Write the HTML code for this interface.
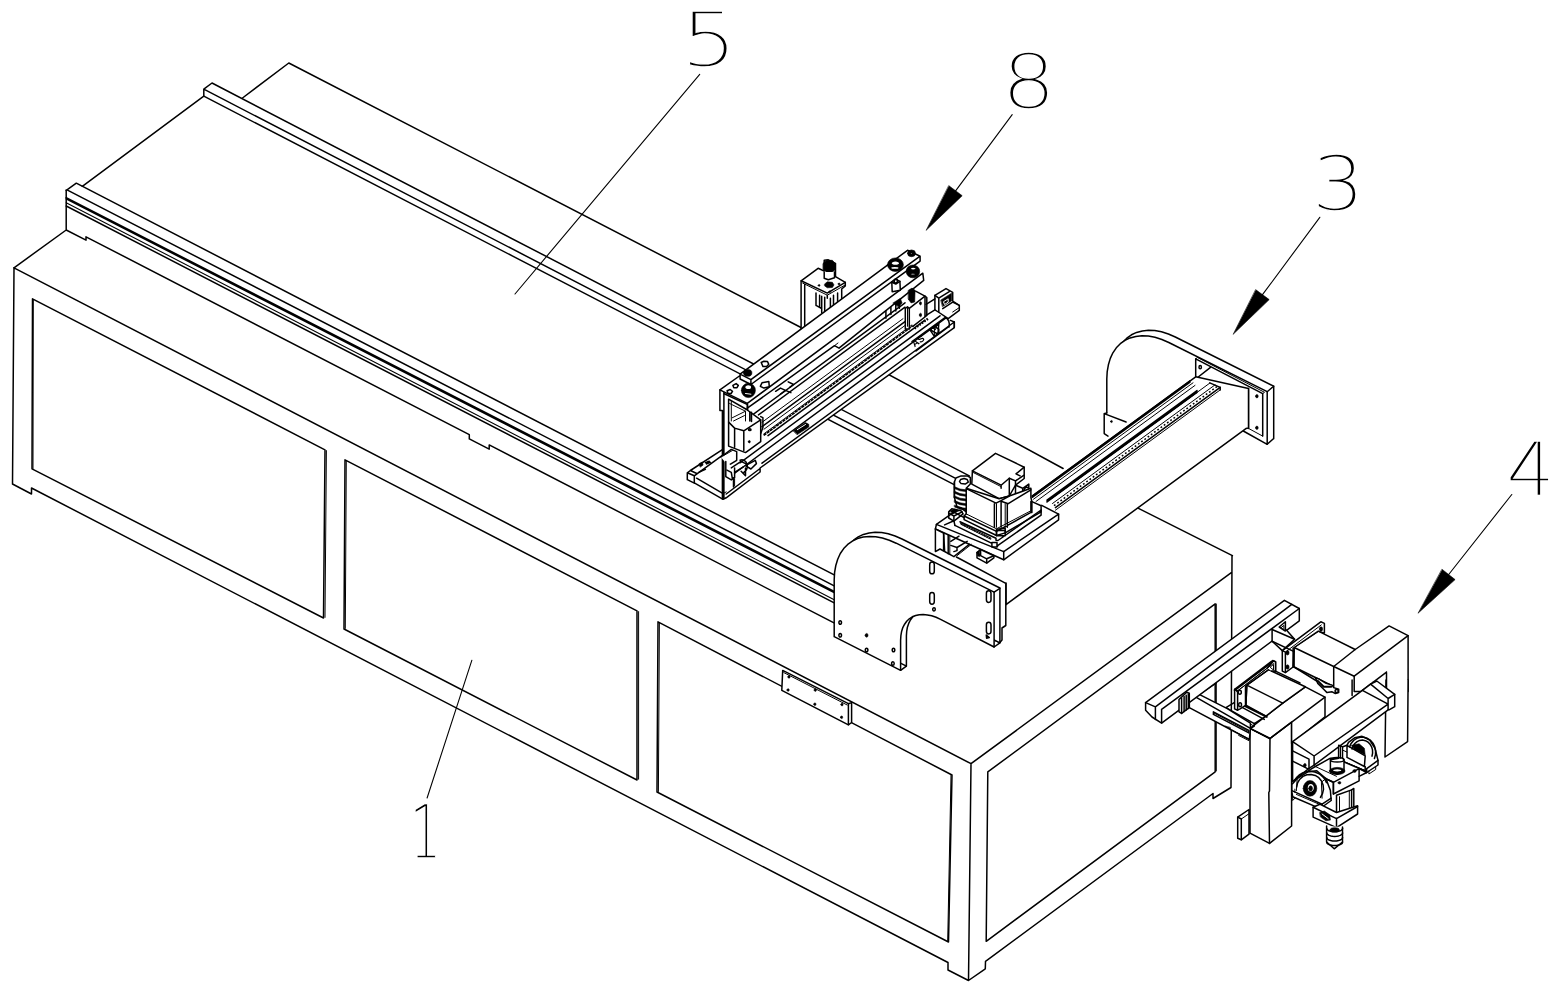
<!DOCTYPE html>
<html lang="en"><head><meta charset="utf-8"><title>Figure</title>
<style>
html,body{margin:0;padding:0;background:#fff;}
body{width:1558px;height:993px;overflow:hidden;}
svg{display:block;}
path{fill:none;stroke:#000;stroke-width:1.5;stroke-linecap:round;stroke-linejoin:round;}
path.t{stroke-width:1.0;}
path.m{stroke-width:1.1;}
path.k2{stroke-width:2.0;}
path.d3{stroke-width:2.4;stroke-dasharray:1.6 1.4;stroke-linecap:butt;}
text.s{stroke:none;filter:grayscale(1);font-family:"Liberation Sans",sans-serif;font-weight:700;}
path.k{stroke-width:1.7;stroke-dasharray:3.2 0.7;stroke-linecap:butt;}
path.wl{stroke:#fff;stroke-width:1.0;}
path.d{stroke-width:1.5;stroke-dasharray:1.8 2.2;stroke-linecap:butt;}
path.d2{stroke-width:1.6;stroke-dasharray:1.2 1.6;stroke-linecap:butt;}
path.f{fill:#000;stroke-width:0.6;}
path.w{fill:#fff;}
path.wn{fill:#fff;stroke:none;}
text{stroke:#fff;stroke-width:1.3px;font-family:"DejaVu Sans Light","DejaVu Sans","Liberation Sans",sans-serif;font-weight:200;fill:#000;}
</style></head><body>
<svg width="1558" height="993" viewBox="0 0 1558 993">
<path d="M14.0 267.8 L12.5 484.0 L31.5 494.0 L31.5 488.0 L948.0 962.5 L948.0 970.0 L968.5 980.5 L985.3 968.8 L985.5 961.4 L1213.0 793.5 L1213.0 798.5 L1231.0 787.5 L1232.0 555.7 M14.0 267.8 L971.0 763.7 L968.5 980.5 M971.0 763.7 L1232.0 572.2 M32.5 298.8 L325.0 449.8 L323.5 618.0 L32.0 468.8Z"/>
<path class="t" d="M33.3 299.5 L33.0 468.5"/>
<path d="M345.0 459.8 L637.0 610.8 L637.0 780.0 L344.0 629.0Z M658.0 621.8 L952.0 775.0 L948.5 942.0 L657.0 792.0Z"/>
<path class="t" d="M951.0 775.5 L947.7 941.0"/>
<path d="M987.8 771.9 L1215.2 603.9 L1215.2 771.8 L986.2 941.3Z"/>
<path class="t" d="M1216.3 604.0 L1216.3 771.0"/>
<path d="M14.0 267.8 L66.2 230.0 L66.2 190.0 M66.2 230.0 L86.0 240.2 L86.0 236.8 L469.3 434.7 L469.3 438.9 L489.2 449.1 L489.2 444.9 L834.0 622.9 M242.5 98.0 L288.8 63.0 L801.0 327.5 M1138.0 508.2 L1232.4 555.7 M203.8 96.2 L82.3 186.3"/>
<path class="w" d="M782.7 670.4 L848.4 703.7 L851.6 702.6 L851.6 722.5 L848.4 724.8 L781.8 690.3Z"/>
<path d="M848.4 703.7 L848.4 724.8"/>
<path class="t" d="M783.8 672.6 L847.2 705.0"/>
<path class="f" d="M787.9 676.9 a1.1 1.3 0 1 0 2.2 0 a1.1 1.3 0 1 0 -2.2 0Z M787.0 690.0 a1.1 1.3 0 1 0 2.2 0 a1.1 1.3 0 1 0 -2.2 0Z M814.2 690.1 a1.1 1.3 0 1 0 2.2 0 a1.1 1.3 0 1 0 -2.2 0Z M813.8 704.2 a1.1 1.3 0 1 0 2.2 0 a1.1 1.3 0 1 0 -2.2 0Z M840.9 704.6 a1.1 1.3 0 1 0 2.2 0 a1.1 1.3 0 1 0 -2.2 0Z M840.5 717.3 a1.1 1.3 0 1 0 2.2 0 a1.1 1.3 0 1 0 -2.2 0Z"/>
<path class="t" d="M638.6 611.6 L638.6 779.2 M659.4 622.8 L658.4 791.5 M326.4 450.6 L325.0 617.4 M346.3 460.8 L345.3 628.4"/>
<path d="M66.2 190.4 L67.0 189.9 L76.3 183.2 L834.2 574.9 M67.0 189.9 L834.2 585.9 M66.2 197.6 L834.2 591.4 M66.2 198.8 L834.2 592.6"/>
<path class="m" d="M66.2 202.7 L834.2 599.8"/>
<path d="M66.2 206.0 L834.2 602.9 M203.8 96.2 L203.8 89.2 L212.0 83.0 M212.0 83.0 L969.3 475.8 M203.8 89.2 L955.1 478.2 M203.8 96.2 L955.1 485.2 M801.0 327.5 L1000.0 434.3 L1063.1 468.5"/>
<path class="w" d="M801.1 329.1 L801.1 280.8 L818.1 268.3 L824.2 271.0 L824.2 260.3 L828.3 259.8 L835.5 263.3 L835.5 276.7 L845.3 282.3 L845.3 285.9 L841.7 289.0 L841.7 305.4 L830.4 315.7 L804.7 328.0Z"/>
<path d="M801.1 280.8 L827.3 293.1 L845.3 282.3"/>
<path class="t" d="M802.7 283.1 L827.3 295.2 L845.3 284.9"/>
<path d="M804.7 284.4 L804.7 328.0 M827.3 295.2 L827.3 298.3 M816.0 293.1 L816.0 305.4 M819.6 295.2 L819.6 307.5 M821.7 296.2 L821.7 312.6 M824.7 297.2 L824.7 313.7 M830.4 298.3 L830.4 315.7 M833.5 295.2 L833.5 311.6 M837.6 293.1 L837.6 307.5 M816.0 305.4 L821.7 308.5 M824.7 313.7 L830.4 315.7 L841.7 305.4"/>
<path class="f" d="M823.2 263.3 L826.3 260.3 L832.4 260.3 L835.5 263.9 L835.5 269.5 L832.4 272.1 L826.3 272.1 L823.2 269.0Z"/>
<path class="w" d="M824.2 272.1 L824.2 278.2 L828.3 279.8 L834.5 277.7 L834.5 272.1"/>
<path class="f" d="M824.7 283.9 L827.3 281.8 L832.4 282.3 L834.0 284.9 L832.4 287.5 L827.3 287.8 L824.7 285.9Z M818.2 285.4 a0.9 0.9 0 1 0 1.8 0 a0.9 0.9 0 1 0 -1.8 0Z M838.2 283.9 a0.9 0.9 0 1 0 1.8 0 a0.9 0.9 0 1 0 -1.8 0Z M829.0 291.6 a0.9 0.9 0 1 0 1.8 0 a0.9 0.9 0 1 0 -1.8 0Z"/>
<path class="wn" d="M687.3 472.8 L687.3 479.6 L694.3 482.8 L723.1 499.3 L760.1 472.0 L760.1 468.0 L954.3 327.6 L954.3 322.0 L959.3 318.0 L959.3 303.0 L952.0 298.0 L952.0 292.0 L946.0 288.5 L935.0 294.0 L935.0 302.0 L927.0 308.0 L927.0 290.0 L923.7 280.4 L922.8 273.2 L920.1 261.1 L920.1 256.2 L907.5 250.3 L740.1 374.2 L719.9 389.9 L719.9 410.6 L722.4 410.6 L722.4 452.0 L690.5 470.5Z"/>
<path d="M740.1 374.2 L907.5 250.3 L920.1 256.2 L750.9 379.6Z M750.9 379.6 L750.9 384.5 L920.1 261.1 L920.1 256.2 M740.1 374.2 L740.1 379.0 L750.9 384.5 M740.1 375.5 L719.9 389.9 L747.3 403.4 L922.8 273.2 L923.7 280.4 M747.3 403.4 L747.3 408.2 L834.5 345.7 L839.0 348.2 L923.7 280.4"/>
<path class="t" d="M834.5 345.7 L838.0 343.0"/>
<path d="M761.2 362.5 L763.9 361.2 L767.5 361.6 L768.8 364.3 L766.6 366.6 L763.0 366.6Z M760.3 386.3 L762.1 382.7 L768.8 381.4 L769.3 386.8 L763.9 388.1Z M732.9 385.4 L736.1 383.6 L738.3 385.4 L737.0 387.7 L733.8 387.7Z M727.1 390.8 L730.2 389.5 L732.5 391.3 L731.1 393.5 L728.0 393.5Z"/>
<path class="f" d="M743.5 372.9 a4.2 3.4 0 1 0 8.4 0 a4.2 3.4 0 1 0 -8.4 0Z M741.4 390.4 a7.0 7.2 0 1 0 14.0 0 a7.0 7.2 0 1 0 -14.0 0Z"/>
<path class="w" d="M744.6 387.2 a3.6 2.6 0 1 0 7.2 0 a3.6 2.6 0 1 0 -7.2 0Z"/>
<path class="wl" d="M745.5 393.5 L750.9 394.2"/>
<path d="M775.6 391.3 L780.5 388.1 L785.5 390.4 M780.5 394.0 L785.5 390.4 L790.9 392.6 M788.2 381.8 L793.6 384.5 L790.0 387.2"/>
<path class="f" d="M907.5 253.3 a4.0 3.4 0 1 0 8.0 0 a4.0 3.4 0 1 0 -8.0 0Z"/>
<path class="w" d="M910.0 253.5 a1.4 1.1 0 1 0 2.8 0 a1.4 1.1 0 1 0 -2.8 0Z"/>
<path class="f" d="M887.4 264.7 a8.0 6.8 0 1 0 16.0 0 a8.0 6.8 0 1 0 -16.0 0Z"/>
<path class="w" d="M891.0 263.2 a4.4 2.4 0 1 0 8.8 0 a4.4 2.4 0 1 0 -8.8 0Z"/>
<path class="w" d="M890.5 267.9 a4.4 1.6 0 1 0 8.8 0 a4.4 1.6 0 1 0 -8.8 0Z"/>
<path class="f" d="M906.1 271.4 a6.8 6.4 0 1 0 13.6 0 a6.8 6.4 0 1 0 -13.6 0Z"/>
<path class="w" d="M909.9 274.1 a3.0 1.2 0 1 0 6.0 0 a3.0 1.2 0 1 0 -6.0 0Z"/>
<path class="w" d="M910.3 268.6 a3.0 1.6 0 1 0 6.0 0 a3.0 1.6 0 1 0 -6.0 0Z"/>
<path class="w" d="M892.2 291.7 L891.8 282.2 L895.8 279.1 L899.9 281.3 L900.3 290.3 L892.2 291.7"/>
<path d="M891.8 282.2 L895.8 284.0 L899.9 281.3 M894.2 280.9 a1.6 2.0 0 1 0 3.2 0 a1.6 2.0 0 1 0 -3.2 0Z M719.9 389.9 L719.9 410.6 L722.4 410.6 L722.4 499.0 M723.9 392.5 L723.9 498.5 M747.3 408.2 L747.3 413.5 M752.2 415.1 L905.0 302.8 M758.5 414.9 L905.0 307.2"/>
<path class="t" d="M762.0 422.3 L903.0 318.7"/>
<path d="M762.0 426.7 L905.0 321.6"/>
<path class="t" d="M764.0 429.2 L905.0 325.5"/>
<path class="k" d="M763.7 435.4 L915.2 323.9"/>
<path class="t" d="M763.7 434.0 L915.2 322.5"/>
<path d="M768.0 435.6 L925.0 320.2 M740.0 462.8 L940.0 315.8 M726.2 497.8 L760.1 472.0 L760.1 468.0 L954.3 327.6 L954.3 322.0 M726.2 494.0 L760.1 468.5 M762.0 463.2 L954.3 322.0 M735.0 473.0 L948.0 316.4 M687.3 472.8 L687.3 479.7 L694.3 483.2 L694.3 475.8Z M687.3 472.8 L690.4 470.5 L697.3 473.7 L694.3 475.8 M690.4 470.5 L722.0 449.8 M697.3 473.7 L722.0 455.7 M696.6 478.2 L723.1 493.6 M694.3 482.9 L723.1 499.3 L726.2 497.8"/>
<path class="t" d="M723.1 493.6 L726.2 491.9"/>
<path class="f" d="M699.3 463.5 L702.3 462.0 L703.1 465.1 L700.4 467.0Z"/>
<path d="M705.4 462.8 L709.3 461.2 M706.6 463.9 L710.4 462.4 M699.3 472.0 L705.4 469.3"/>
<path class="w" d="M728.6 399.2 L728.6 446.1 L745.5 452.6 L760.7 441.7 L760.7 419.9 L746.6 409.5Z"/>
<path d="M734.6 428.1 L743.8 430.8 L760.7 419.9 M734.6 428.1 L734.6 447.2 M743.8 430.8 L743.8 450.5 M728.6 422.1 L734.6 428.1"/>
<path class="t" d="M731.3 401.4 L731.3 421.0"/>
<path d="M748.6 429.7 a1.2 0.9 0 1 0 2.4 0 a1.2 0.9 0 1 0 -2.4 0Z"/>
<path class="f" d="M748.3 441.7 a1.0 1.2 0 1 0 2.0 0 a1.0 1.2 0 1 0 -2.0 0Z"/>
<path d="M724.2 393.7 L747.6 404.6 L747.6 410.1"/>
<path class="t" d="M729.6 403.5 L745.5 411.2 L745.5 421.0"/>
<path d="M749.8 412.3 L749.8 421.0 M751.5 412.3 L751.5 421.6"/>
<path class="t" d="M732.4 417.7 L745.5 411.2 M733.5 421.0 L744.4 415.6"/>
<path d="M760.7 416.6 L762.9 417.7 L762.9 427.6 L760.7 433.6"/>
<path class="w" d="M720.9 457.0 L731.3 449.4 L736.7 451.6 L736.7 460.3 L728.0 465.7"/>
<path class="t" d="M723.1 455.9 L732.4 450.5"/>
<path class="w" d="M725.8 461.4 L725.8 476.7 L731.3 479.9 L734.6 477.7 L734.6 467.9"/>
<path d="M726.9 470.1 L731.3 472.3 L732.4 478.8 M731.3 467.9 L741.1 461.4 L745.5 463.6 M734.6 472.3 L743.3 466.8 M740.0 460.3 a5 6 0 0 1 4 12 M745.5 465.7 L755.3 460.3 L756.4 463.6 L750.9 469.0Z M741.1 471.2 L745.5 475.6 L745.5 467.9 M733.5 477.7 L733.5 487.0"/>
<path class="t" d="M734.6 478.8 L734.6 485.9"/>
<path class="f" d="M793.5 430.8 L805.5 422.6 L808.8 424.3 L808.8 427.0 L797.3 434.6Z"/>
<path class="wl" d="M797.3 429.7 L805.5 424.5"/>
<path class="f" d="M908.4 290.3 L912.0 288.1 L915.1 290.3 L914.7 302.0 L911.1 302.9 L908.4 299.3Z"/>
<path class="w" d="M905.3 308.3 L905.3 328.9 L909.3 328.9 L909.3 308.3 L925.0 296.2 L926.8 297.5 L926.8 315.5 L912.9 326.3"/>
<path d="M905.3 308.3 L907.5 306.9 L909.3 308.3"/>
<path class="t" d="M907.5 306.9 L907.5 326.3"/>
<path d="M915.6 291.2 L925.0 296.2 L925.0 316.4"/>
<path class="f" d="M919.5 303.3 a1.0 1.6 0 1 0 2.0 0 a1.0 1.6 0 1 0 -2.0 0Z M919.4 315.0 a1.1 1.8 0 1 0 2.2 0 a1.1 1.8 0 1 0 -2.2 0Z"/>
<path d="M885.9 311.0 L885.9 318.2 M890.9 307.4 L890.9 314.6 M895.8 303.8 L895.8 311.0 M899.4 301.1 L899.4 308.3"/>
<path class="f" d="M893.1 302.9 L900.3 298.4 L902.1 302.9 L898.5 306.5Z"/>
<path class="w" d="M934.9 295.4 L946.0 288.6 L952.7 292.3 L952.7 301.0 L959.3 305.4 L959.3 310.4 L948.2 318.7 L938.3 312.0 L934.9 309.8Z"/>
<path d="M934.9 295.4 L938.8 298.2 L938.8 312.0 M938.8 298.2 L949.3 291.6"/>
<path class="f" d="M941.0 299.9 L951.5 293.2 L951.5 301.0 L942.7 306.5Z"/>
<path class="wl" d="M943.8 301.5 L948.2 298.8 L948.2 302.1 L944.9 304.3Z"/>
<path d="M926.1 304.3 L934.9 298.8 M926.1 315.4 L934.9 309.8 M942.7 308.7 L952.7 302.1 L959.3 305.4"/>
<path class="t" d="M952.7 312.0 L959.3 307.6"/>
<path d="M912.0 341.5 L945.0 317.5 M916.0 351.0 L949.0 326.5 M945 317.5 a5 7 0 0 1 4 9.5 M930.0 329.8 L934.4 326.4 L938.8 329.2 L938.8 333.1 L934.4 336.4Z"/>
<path class="t" d="M934.4 326.4 L934.4 336.4"/>
<path d="M950.4 320.4 L954.3 322.0 L954.3 327.6"/>
<path class="d3" d="M914.5 328.6 L928.0 318.7"/>
<path d="M929.8 329.5 L938.8 323.7 L937.9 334.0 L934.3 332.2Z"/>
<path class="t" d="M932.5 327.7 L935.2 330.0 L936.6 326.4"/>
<path class="w" d="M1113.3 407.5 L1113.3 373.5 L1113.7 366.1 L1114.9 359.3 L1116.8 352.9 L1119.4 347.3 L1122.8 342.3 L1126.8 338.2 L1131.5 334.8 L1136.6 332.4 L1142.3 330.9 L1148.4 330.2 L1154.8 330.5 L1161.5 331.8 L1168.4 334.0 L1175.3 337.0 L1273.7 386.2 L1273.7 438.8 L1273.7 438.5 L1267.2 444.3"/>
<path class="w" d="M1106.8 413.0 L1106.8 379.0 L1107.2 371.6 L1108.4 364.8 L1110.3 358.4 L1112.9 352.8 L1116.3 347.8 L1120.3 343.7 L1125.0 340.3 L1130.1 337.9 L1135.8 336.4 L1141.9 335.7 L1148.3 336.0 L1155.0 337.3 L1161.9 339.5 L1168.8 342.5 L1267.2 391.7 L1267.2 444.3 L1243.3 431.0"/>
<path d="M1267.2 391.7 L1273.7 386.2"/>
<path class="w" d="M1195.7 379.0 L1195.7 358.8 L1262.7 393.6 L1262.7 436.1"/>
<path d="M1248.5 388.5 L1248.5 428.4"/>
<path class="t" d="M1195.7 358.8 L1197.5 357.5 L1264.5 392.3 L1262.7 393.6"/>
<path d="M1199.0 367.2 a1.2 1.6 0 1 0 2.4 0 a1.2 1.6 0 1 0 -2.4 0Z"/>
<path class="f" d="M1255.6 396.2 a1.3 1.7 0 1 0 2.6 0 a1.3 1.7 0 1 0 -2.6 0Z M1255.6 427.8 a1.3 1.7 0 1 0 2.6 0 a1.3 1.7 0 1 0 -2.6 0Z"/>
<path d="M1195.7 379.0 L1210.5 367.4 M1106.8 412.9 L1104.2 413.6 L1104.2 433.6 L1108.0 436.1 M1104.2 413.6 L1126.1 422.0"/>
<path class="f" d="M1110.6 421.5 a0.9 1.1 0 1 0 1.8 0 a0.9 1.1 0 1 0 -1.8 0Z"/>
<path class="w" d="M1032.2 496.0 L1195.7 376.8 L1248.5 388.5 L1248.5 428.0 L1245.9 428.6 L1006.0 604.6 L1006.0 583.0"/>
<path class="t" d="M1248.5 428.4 L1262.7 436.1"/>
<path d="M1032.2 496.0 L1190.0 380.8 M1032.2 497.3 L1190.0 382.1"/>
<path class="t" d="M1033.5 499.2 L1193.0 382.8 M1036.0 501.5 L1195.0 385.4"/>
<path d="M1047.0 500.0 L1197.0 390.5 M1047.0 501.0 L1197.0 391.5 M1047.0 502.0 L1197.0 392.5"/>
<path class="t" d="M1051.0 499.0 L1209.8 383.1 M1052.5 503.5 L1215.0 384.9"/>
<path d="M1055.4 507.6 L1220.2 387.3"/>
<path class="t" d="M1055.4 510.2 L1220.2 389.9"/>
<path d="M1209.8 382.9 L1220.2 387.4 L1220.2 390.0"/>
<path class="d" d="M1054 505.6 L1217.5 386.2"/>
<path class="w" d="M971.8 484.1 L972.4 470.8 L995.5 453.3 L1024.2 467.2 L1024.2 478.5 L1015.5 485.2 L1009.3 496.0 L999.1 498.7Z"/>
<path d="M972.4 470.8 L1001.1 485.2 L1009.3 478.2 L1015.5 480.9 M1024.2 467.2 L1016.0 473.9 L1020.1 475.9 M1001.1 485.2 L1001.1 488.3"/>
<path class="t" d="M973.4 472.6 L1000.6 486.4"/>
<path d="M1009.3 478.2 L1009.3 496.0 L1015.5 496.0 L1015.5 480.9 M1015.5 485.2 L1022.7 488.3 L1022.7 496.0 M1022.7 488.3 L1028.8 484.1 L1028.8 493.4 M1015.5 480.9 L1023.7 475.4 M1024.2 490.5 a2.6 3.2 0 1 0 5.2 0 a2.6 3.2 0 1 0 -5.2 0Z"/>
<path class="w" d="M966.2 488.3 L966.2 513.9 L964.1 516.0 L964.1 519.6 L996.5 535.5 L1005.2 532.9 L1041.1 511.9 L1041.1 505.7 L1031.9 501.6 L1030.9 497.5 L1030.9 488.3 L1009.3 496.0 L999.1 498.7Z"/>
<path d="M967.2 489.1 L996.0 503.1 L1001.1 500.6 L1009.3 496.0 M994.4 503.7 L994.4 527.3"/>
<path class="t" d="M996.5 503.7 L996.5 527.3"/>
<path d="M1001.1 501.6 L1001.1 527.3"/>
<path class="t" d="M1005.2 503.7 L1005.2 527.3"/>
<path d="M1007.3 503.7 L1007.3 527.3 M1001.1 501.2 L1008.3 503.7 L1030.9 489.8 M1030.9 501.6 L1030.9 511.9 M1031.9 501.6 L1031.9 512.4 M964.1 516.0 L996.5 531.4 L1031.9 511.9"/>
<path class="t" d="M966.2 513.9 L996.5 528.8 L1030.9 510.8"/>
<path d="M996.5 529.3 L996.5 535.5 M996.5 529.3 L1005.2 528.3 L1005.2 532.9"/>
<path class="w" d="M954.4 482.1 L955.9 478.0 L961.1 475.9 L967.2 475.9 L970.3 477.5 L970.3 484.1 L966.2 488.3 L966.2 511.9 L961.1 507.8 L957.0 506.7 L954.4 497.5Z"/>
<path class="f" d="M954.6 486.7 L960.0 489.0 L966.0 489.8 L966.0 491.6 L960.0 490.8 L954.6 488.6Z M954.6 491.3 L960.0 493.6 L966.0 494.4 L966.0 496.3 L960.0 495.4 L954.6 493.2Z M954.6 496.0 L960.0 498.2 L966.0 499.0 L966.0 500.9 L960.0 500.1 L954.6 497.8Z M954.6 500.6 L960.0 502.8 L966.0 503.7 L966.0 505.5 L960.0 504.7 L954.6 502.4Z M954.6 505.2 L960.0 507.5 L966.0 508.3 L966.0 510.1 L960.0 509.3 L954.6 507.0Z"/>
<path d="M960.6 479.5 L964.1 478.5 L967.2 479.5 L968.3 482.1 L965.2 484.1 L961.1 483.6 L959.5 481.6Z M954.4 482.1 L954.4 497.5"/>
<path class="w" d="M948.7 511.9 L951.8 508.8 L961.1 510.8 L963.1 513.9 L953.9 521.1 L948.7 518.0Z"/>
<path d="M949.3 513.4 L953.9 516.0 L962.1 511.9 M953.9 516.0 L953.9 521.1"/>
<path class="f" d="M949.8 510.8 L954.9 509.0 L959.0 510.8 L952.9 513.9Z"/>
<path d="M936.4 524.4 L953.9 512.1 L964.1 517.7"/>
<path class="w" d="M935.4 529.0 L936.4 524.4 L1003.7 551.6 L1058.6 514.1 L1058.6 519.8 L1003.7 559.8Z"/>
<path d="M1003.7 551.6 L1003.7 559.8 M1058.6 514.1 L1041.7 505.4 M954.9 525.4 L991.9 543.4 L991.9 547.0 L997.0 547.0 L998.0 545.4 L1041.1 515.2 L1041.1 510.0 M960.0 521.8 L996.0 538.3 L996.0 540.3 L998.0 540.5 L1041.1 510.0 M991.9 542.4 L997.0 542.4 L997.0 547.0 M991.9 542.4 L991.9 547.0 M996.5 530.6 L1005.2 530.6 L1005.2 535.7 L996.5 535.7Z"/>
<path class="t" d="M961.1 523.1 L990.8 537.9 L990.8 539.3 L961.1 524.4Z"/>
<path class="d2" d="M961.6 523.9 L990.6 538.6"/>
<path d="M944.6 524.9 L953.9 520.8 L954.9 525.4 M935.4 529.0 L935.4 551.6 L940.0 549.0 L953.9 556.7 L969.3 544.4"/>
<path class="w" d="M935.4 529.0 L943.6 533.1 L944.6 550.6"/>
<path d="M943.6 533.1 L943.6 550.6 M948.2 535.2 L948.2 553.7"/>
<path class="t" d="M949.8 535.7 L949.8 554.2"/>
<path d="M950.8 541.3 L959.0 536.2 M950.8 545.4 L957.0 547.5 L967.2 541.3 M953.9 551.6 L957.0 550.6 L957.0 547.5"/>
<path class="t" d="M957.0 555.7 L971.3 544.4"/>
<path class="w" d="M977.0 552.6 L980.6 549.5 L993.9 555.7 L993.9 557.8 L986.7 563.1 L977.0 557.8Z"/>
<path d="M980.6 549.5 L980.6 555.7 L986.7 558.8 L993.9 555.7 M977.0 552.6 L980.6 555.7 M986.7 558.8 L986.7 563.1"/>
<path class="f" d="M977.5 551.6 L979.5 550.6 L979.5 556.7 L977.5 555.7Z"/>
<path class="w" d="M956.4 557.0 L1005.8 583.4 L1005.8 625.5 L1002.0 628.0 L1002.0 640.0 L999.9 642.5 L994.1 640.0"/>
<path class="w" d="M840.0 632.5 L840.0 575.5 L840.4 568.2 L841.6 561.3 L843.5 555.0 L846.2 549.3 L849.5 544.4 L853.6 540.2 L858.2 536.9 L863.4 534.4 L869.1 532.9 L875.1 532.3 L881.6 532.6 L888.2 533.8 L895.1 536.0 L902.0 539.0 L999.9 588.0 L999.9 642.8 L946.4 615.2 L942.0 613.1 L937.5 611.6 L933.2 610.7 L929.1 610.3 L925.2 610.5 L921.5 611.3 L918.2 612.6 L915.2 614.6 L912.6 617.0 L910.4 620.0 L908.7 623.4 L907.4 627.2 L906.7 631.4 L906.4 635.9 L906.4 666.1Z"/>
<path class="w" d="M834.2 636.7 L834.2 579.8 L834.6 572.4 L835.8 565.5 L837.7 559.2 L840.3 553.5 L843.7 548.6 L847.7 544.4 L852.4 541.1 L857.5 538.6 L863.2 537.1 L869.3 536.5 L875.7 536.8 L882.4 538.0 L889.3 540.2 L896.2 543.2 L994.1 592.2 L994.1 647.0 L940.6 619.4 L936.1 617.3 L931.7 615.8 L927.4 614.9 L923.2 614.5 L919.3 614.7 L915.7 615.5 L912.3 616.8 L909.3 618.8 L906.7 621.2 L904.6 624.2 L902.8 627.6 L901.6 631.4 L900.9 635.6 L900.6 640.1 L900.6 670.3Z"/>
<path d="M900.6 670.3 L906.4 666.1 M994.1 592.2 L999.9 588.4 M994.1 647.0 L999.9 642.8 M838.9 622.5 a1.3 1.8 0 1 0 2.6 0 a1.3 1.8 0 1 0 -2.6 0Z M838.9 635.3 a1.3 1.8 0 1 0 2.6 0 a1.3 1.8 0 1 0 -2.6 0Z M865.3 650.0 a1.3 1.8 0 1 0 2.6 0 a1.3 1.8 0 1 0 -2.6 0Z M892.2 650.0 a1.3 1.8 0 1 0 2.6 0 a1.3 1.8 0 1 0 -2.6 0Z M891.6 663.5 a1.3 1.8 0 1 0 2.6 0 a1.3 1.8 0 1 0 -2.6 0Z"/>
<path class="f" d="M865.2 635.3 a1.4 1.9 0 1 0 2.8 0 a1.4 1.9 0 1 0 -2.8 0Z"/>
<path d="M929.7 564.7 v6.5 a2.3 2.6 0 0 0 4.6 0 v-6.5 a2.3 2.6 0 0 0 -4.6 0Z M929.7 595.1 v6.5 a2.3 2.6 0 0 0 4.6 0 v-6.5 a2.3 2.6 0 0 0 -4.6 0Z M986.4 593.3 v6.5 a2.3 2.6 0 0 0 4.6 0 v-6.5 a2.3 2.6 0 0 0 -4.6 0Z M986.4 624.8 v6.5 a2.3 2.6 0 0 0 4.6 0 v-6.5 a2.3 2.6 0 0 0 -4.6 0Z M932.7 609.3 a1.3 1.6 0 1 0 2.6 0 a1.3 1.6 0 1 0 -2.6 0Z M986.3 635.0 L989.3 637.6 L986.6 638.2Z"/>
<path class="w" d="M1355.2 649.5 L1389.1 625.9 L1408.1 635.7 L1408.1 691.6 L1354.2 691.6 L1354.2 676.2 L1333.7 666.5"/>
<path d="M1408.1 635.7 L1354.2 676.2"/>
<path class="w" d="M1408.1 680.0 L1407.6 741.6 L1385.0 757.0 L1386.0 680.0"/>
<path d="M1352.1 680.0 L1352.1 695.4 M1386.5 672.1 L1386.5 688.6 M1361.4 691.1 L1386.5 672.1 M1372.7 682.4 L1384.0 688.0"/>
<path class="t" d="M1368.6 685.5 L1377.8 691.1"/>
<path class="w" d="M1294.1 647.5 L1318.3 631.1 L1355.2 649.5 L1333.7 666.5 L1333.7 691.6 L1294.1 667.0Z"/>
<path d="M1294.1 647.5 L1333.7 666.5 M1294.1 667.0 L1332.6 686.0"/>
<path class="w" d="M1282.3 650.6 L1320.8 621.8 L1324.4 623.4 L1324.4 633.1 L1318.3 631.1 L1294.1 647.5 L1293.1 667.0 L1285.4 672.6 L1282.3 671.1Z"/>
<path d="M1282.3 650.6 L1285.4 652.1 L1285.4 672.6"/>
<path class="t" d="M1285.4 652.1 L1321.3 624.9"/>
<path d="M1293.1 648.0 L1293.1 667.0"/>
<path class="f" d="M1285.9 652.8 a1.6 2.2 0 1 0 3.2 0 a1.6 2.2 0 1 0 -3.2 0Z M1285.9 667.0 a1.6 2.2 0 1 0 3.2 0 a1.6 2.2 0 1 0 -3.2 0Z M1319.4 629.0 a1.6 2.2 0 1 0 3.2 0 a1.6 2.2 0 1 0 -3.2 0Z"/>
<path class="w" d="M1315.3 677.6 L1319.5 679.3 L1326.2 683.4 L1332.1 685.1 L1333.7 687.6 L1338.7 689.3 L1338.7 692.6 L1335.4 693.5 L1332.1 691.8 L1327.0 692.6 L1323.7 689.3 L1317.8 683.4Z"/>
<path class="k2" d="M1317.8 680.9 L1323.7 686.8 L1331.2 686.8"/>
<path d="M1335.1 691.0 a1.6 1.6 0 1 0 3.2 0 a1.6 1.6 0 1 0 -3.2 0Z"/>
<path class="w" d="M1250.0 728.3 L1250.0 833.2 L1269.5 843.4 L1291.6 826.0 L1291.6 722.0 L1270.0 738.5Z"/>
<path d="M1270.0 738.5 L1269.5 791.0 L1268.8 792.5 L1269.5 843.4"/>
<path class="w" d="M1250.0 728.3 L1282.7 703.1 L1305.3 686.8 L1325.0 697.2 L1325.0 716.9 L1291.6 743.5 L1291.6 722.0 L1270.0 738.5Z"/>
<path d="M1325.0 697.2 L1270.0 738.5 L1250.0 728.3"/>
<path class="w" d="M1237.7 817.2 L1249.0 809.5 L1249.0 834.2 L1241.3 839.8 L1237.7 838.3Z"/>
<path d="M1237.7 817.2 L1241.3 819.0 L1241.3 839.8"/>
<path class="t" d="M1241.3 819.0 L1249.0 813.7"/>
<path class="w" d="M1246.8 685.1 L1268.5 669.6 L1305.3 686.8 L1282.7 703.1 L1266.0 716.1 L1245.9 705.2Z"/>
<path d="M1246.8 685.1 L1282.7 703.1"/>
<path class="k2" d="M1240.1 703.5 L1266.8 716.9"/>
<path d="M1242.6 707.7 L1264.3 719.4 M1225.9 707.7 L1254.3 723.6 L1266.0 716.1 M1225.9 707.7 L1234.2 702.7"/>
<path class="t" d="M1225.9 710.2 L1252.6 725.3"/>
<path d="M1254.3 723.6 L1254.3 726.1 L1251.0 728.2"/>
<path class="w" d="M1234.6 689.3 L1272.7 660.5 L1275.6 661.7 L1275.6 670.9 L1268.5 669.6 L1246.8 685.1 L1245.9 705.2 L1240.1 708.9 L1237.6 710.2 L1234.6 708.9Z"/>
<path d="M1234.6 689.3 L1237.6 691.0 L1237.6 710.2"/>
<path class="t" d="M1237.6 691.0 L1273.9 663.0"/>
<path d="M1245.5 686.0 L1245.5 705.2 M1238.3 692.2 a1.5 2.0 0 1 0 3.0 0 a1.5 2.0 0 1 0 -3.0 0Z M1238.7 704.8 a1.4 2.0 0 1 0 2.8 0 a1.4 2.0 0 1 0 -2.8 0Z M1271.4 667.7 a1.5 2.0 0 1 0 3.0 0 a1.5 2.0 0 1 0 -3.0 0Z"/>
<path class="w" d="M1189.3 693.3 L1190.3 689.8 L1227.3 708.7 L1250.4 723.1 L1250.4 729.3 L1249.3 739.5 L1189.3 707.7Z"/>
<path d="M1189.3 693.3 L1250.4 728.3 M1213.4 711.8 L1248.8 730.3 L1248.8 732.9 L1213.4 714.4Z"/>
<path class="t" d="M1214.1 713.1 L1248.3 731.3"/>
<path class="f" d="M1225.2 726.2 L1230.3 729.3 L1230.3 727.7Z"/>
<path class="t" d="M1232.4 730.3 L1248.8 739.0 M1238.6 735.4 L1248.8 740.6"/>
<path d="M1190.3 689.8 L1201.6 682.6 M1200.6 693.3 L1216.0 683.1"/>
<path class="w" d="M1145.6 702.6 L1284.4 600.3 L1299.3 608.5 L1299.3 620.8 L1161.6 723.1 L1152.0 717.0 L1145.6 710.3Z"/>
<path d="M1155.4 706.9 L1291.8 604.4 M1161.6 709.3 L1299.3 608.5 M1145.6 702.6 L1155.4 706.9 L1155.4 719.5 M1161.6 709.3 L1161.6 723.1"/>
<path class="w" d="M1179.0 699.5 L1179.0 711.8 L1181.6 713.4 L1189.3 707.7 L1189.3 693.3 L1186.7 692.3Z"/>
<path d="M1181.6 698.0 L1181.6 713.4 M1184.1 696.4 L1184.1 711.5 M1186.2 695.2 L1186.2 710.0 M1188.3 694.0 L1188.3 708.5"/>
<path class="w" d="M1272.1 629.5 L1272.1 641.3 L1282.3 650.6 L1294.6 639.3 L1286.4 630.0"/>
<path d="M1272.1 629.5 L1294.6 639.3 M1272.1 641.3 L1294.1 651.6 M1279.2 627.0 L1285.4 621.8 L1285.4 631.1Z"/>
<path class="t" d="M1281.3 627.5 L1283.9 625.4 L1283.9 629.5Z"/>
<path class="w" d="M1267.3 668.0 L1273.5 660.8 L1275.5 661.9 L1275.5 671.1 L1271.4 671.1"/>
<path class="t" d="M1270.4 667.0 L1273.5 664.4 L1273.5 669.6Z"/>
<path d="M1234.5 690.6 L1272.4 661.9"/>
<path class="t" d="M1236.5 691.6 L1273.5 663.4"/>
<path d="M1275.5 671.1 L1300.0 682.9"/>
<path class="w" d="M1292.6 741.6 L1362.4 690.3 L1370.6 684.1 L1376.8 681.0 L1394.7 694.4 L1394.7 706.7 L1389.1 709.8 L1388.1 709.8 L1314.1 765.2 L1309.0 768.3 L1292.6 781.6Z"/>
<path d="M1292.6 741.6 L1314.1 756.0 L1388.1 704.1 L1362.4 690.3 M1314.1 756.0 L1314.1 765.2 M1388.1 704.1 L1388.1 709.8 M1370.6 684.1 L1388.1 698.5 L1394.7 694.4 M1388.1 698.5 L1388.1 704.1 M1362.4 690.3 L1388.1 704.1 M1292.6 750.8 L1309.0 759.1 L1309.0 768.3 M1292.6 761.1 L1308.0 768.8"/>
<path class="f" d="M1303.6 765.2 a1.3 1.8 0 1 0 2.6 0 a1.3 1.8 0 1 0 -2.6 0Z"/>
<path class="w" d="M1338.7 748.3 L1347.0 745.3 L1348.5 742.3 L1354.6 737.8 L1362.1 736.3 L1369.7 740.0 L1375.0 748.3 L1378.0 760.4 L1378.0 765.0 L1366.7 772.5 L1365.2 771.0 L1338.7 759.7Z"/>
<path d="M1347.0 745.3 L1347.0 757.4 L1364.4 766.5 L1365.2 755.9 L1347.0 745.3 M1338.7 748.3 L1338.7 759.7 L1365.2 771.0 L1365.2 766.5"/>
<path class="t" d="M1338.7 748.3 L1347.0 752.1"/>
<path d="M1349.5 747.0 L1351.1 743.4 L1353.6 740.5 L1356.7 738.4 L1360.2 737.3 L1363.8 737.2 L1367.3 738.3 L1370.4 740.3 L1373.0 743.2 L1374.7 746.7 L1375.6 750.6 L1375.5 754.6 L1374.4 758.5 M1352.0 749.0 L1353.1 746.0 L1354.8 743.5 L1357.1 741.6 L1359.7 740.4 L1362.5 740.1 L1365.3 740.7 L1367.9 742.0 L1370.0 744.1 L1371.6 746.8 L1372.5 749.9 L1372.6 753.1 L1372.0 756.2"/>
<path class="f" d="M1351.6 745.3 L1359.1 743.8 L1364.4 748.3 L1365.2 755.1 L1354.6 749.8Z"/>
<path d="M1366.7 772.5 L1366.7 768.7 L1378.0 760.4"/>
<path class="t" d="M1368.9 771.0 L1368.9 774.0 L1375.7 769.5 L1375.7 767.2"/>
<path class="w" d="M1308.5 770.7 L1315.3 766.5 L1330.4 758.2 L1338.7 759.7 L1365.2 771.0 L1366.7 772.5 L1359.1 776.3 L1359.1 780.8 L1333.4 794.0 L1333.4 782.3Z"/>
<path d="M1308.5 770.7 L1333.4 782.3 L1359.1 768.7 L1366.7 772.5 M1333.4 782.3 L1333.4 794.0 M1359.1 768.7 L1359.1 776.3"/>
<path class="t" d="M1315.3 766.5 L1336.5 776.3"/>
<path class="f" d="M1353.0 771.0 a1.6 1.4 0 1 0 3.2 0 a1.6 1.4 0 1 0 -3.2 0Z M1338.1 782.8 a1.4 1.2 0 1 0 2.8 0 a1.4 1.2 0 1 0 -2.8 0Z"/>
<path class="w" d="M1338.7 745.3 L1338.7 758.2 L1330.4 759.7 L1330.4 771.0 L1337.2 774.3 L1344.0 771.0 L1344.0 759.7 L1342.5 758.2 L1342.5 746.8Z"/>
<path class="f" d="M1329.4 771.0 a7.8 3.6 0 1 0 15.6 0 a7.8 3.6 0 1 0 -15.6 0Z"/>
<path class="w" d="M1332.4 770.4 a4.8 1.8 0 1 0 9.6 0 a4.8 1.8 0 1 0 -9.6 0Z"/>
<path d="M1330.4 759.7 a6.8 2.3 0 1 0 13.6 0 a6.8 2.3 0 1 0 -13.6 0Z"/>
<path class="t" d="M1340.5 746.1 L1340.5 758.2"/>
<path class="w" d="M1291.9 792.1 L1291.9 784.6 L1297.2 778.5 L1307.8 771.8 L1316.8 770.7 L1325.9 778.5 L1330.4 790.6 L1331.2 800.5 L1322.9 806.5 L1321.4 809.1 L1292.7 796.7Z"/>
<path d="M1296.6 787.1 L1297.6 782.9 L1299.8 779.2 L1303.0 776.4 L1306.9 774.7 L1311.1 774.4 L1315.2 775.4 L1318.8 777.7 L1321.5 781.0 L1323.1 785.0 L1323.5 789.4 L1322.5 793.6 L1320.4 797.4 M1294.9 779.9 L1296.8 777.3 L1299.2 775.0 L1301.9 773.3 L1305.0 772.1 L1308.3 771.5 L1311.6 771.4 L1314.8 772.0 L1317.9 773.2 L1320.7 774.9 L1323.1 777.1 L1325.1 779.7 L1326.5 782.6"/>
<path class="f" d="M1303.2 788.4 a6.8 7.8 0 1 0 13.6 0 a6.8 7.8 0 1 0 -13.6 0Z"/>
<path class="w" d="M1307.0 787.8 a3.8 4.6 0 1 0 7.6 0 a3.8 4.6 0 1 0 -7.6 0Z"/>
<path class="f" d="M1308.7 788.4 a1.9 2.6 0 1 0 3.8 0 a1.9 2.6 0 1 0 -3.8 0Z"/>
<path d="M1291.9 790.6 L1322.1 804.2 L1331.2 798.2"/>
<path class="t" d="M1294.9 789.1 L1294.9 792.4"/>
<path d="M1322.1 804.2 L1321.4 809.1"/>
<path class="t" d="M1297.2 778.5 L1296.4 790.6 M1325.9 778.5 L1321.4 782.3 L1322.1 798.2 M1296.4 794.4 L1319.1 804.2 M1292.7 796.7 L1292.7 800.5 L1294.9 798.2"/>
<path class="w" d="M1336.5 795.2 L1336.5 820.1 L1351.6 811.0 L1353.8 808.0 L1353.8 788.4 L1351.6 789.9Z"/>
<path class="t" d="M1339.5 796.7 L1339.5 818.6"/>
<path d="M1351.6 789.9 L1351.6 811.0"/>
<path class="t" d="M1349.3 791.4 L1349.3 811.8"/>
<path class="w" d="M1313.1 807.3 L1319.8 804.2 L1336.5 812.5 L1357.6 805.7 L1357.6 814.0 L1336.5 827.6 L1313.1 817.1Z"/>
<path d="M1313.1 807.3 L1336.5 818.6 L1357.6 806.5 M1336.5 818.6 L1336.5 827.6"/>
<path class="f" d="M1319.8 812.5 L1324.4 811.0 L1329.7 814.8 L1330.4 820.1 L1325.9 820.8 L1320.6 817.1Z"/>
<path class="wl" d="M1322.1 814.0 L1328.2 818.6"/>
<path class="w" d="M1326.6 826.1 L1326.6 842.0 L1334.2 848.8 L1342.5 842.0 L1342.5 826.9"/>
<path d="M1342.6 828.4 L1342.3 829.3 L1341.5 830.1 L1340.2 830.8 L1338.6 831.3 L1336.7 831.7 L1334.7 831.8 L1332.6 831.7 L1330.7 831.3 L1329.1 830.8 L1327.8 830.1 L1327.0 829.3 L1326.8 828.4 M1342.6 833.0 L1342.3 833.9 L1341.5 834.7 L1340.2 835.4 L1338.6 835.9 L1336.7 836.3 L1334.7 836.4 L1332.6 836.3 L1330.7 835.9 L1329.1 835.4 L1327.8 834.7 L1327.0 833.9 L1326.8 833.0 M1342.6 837.6 L1342.3 838.5 L1341.5 839.3 L1340.2 840.0 L1338.6 840.5 L1336.7 840.9 L1334.7 841.0 L1332.6 840.9 L1330.7 840.5 L1329.1 840.0 L1327.8 839.3 L1327.0 838.5 L1326.8 837.6 M1342.6 842.2 L1342.3 843.1 L1341.5 843.9 L1340.2 844.6 L1338.6 845.1 L1336.7 845.5 L1334.7 845.6 L1332.6 845.5 L1330.7 845.1 L1329.1 844.6 L1327.8 843.9 L1327.0 843.1 L1326.8 842.2"/>
<path class="f" d="M1330.1 829.9 a4.6 2.2 0 1 0 9.2 0 a4.6 2.2 0 1 0 -9.2 0Z"/>
<path class="m" d="M1012.2 114.6 L955.6 190.8"/>
<path class="f" d="M926.4 230.1 L962.2 195.7 L949.0 185.8Z"/>
<path class="m" d="M1319.8 217.3 L1262.5 294.7"/>
<path class="f" d="M1233.4 334.1 L1269.2 299.6 L1255.9 289.8Z"/>
<path class="m" d="M1511.8 494.5 L1448.7 574.5"/>
<path class="f" d="M1418.3 613.0 L1455.1 579.6 L1442.2 569.4Z"/>
<path class="m" d="M699.7 74.3 L515.0 294.0 M427.1 798.0 L471.9 660.2"/>
<text transform="translate(680.5 66.1) scale(1.190 1)" font-size="75">5</text>
<text transform="translate(1001.4 107.8) scale(1.142 1)" font-size="75">8</text>
<text transform="translate(1311.8 210.1) scale(1.111 1)" font-size="75">3</text>
<text transform="translate(1506.3 496.1) scale(1.019 1)" font-size="75">4</text>
<text transform="translate(409.7 857.6) scale(0.658 1)" font-size="75">1</text>
<text class="s" transform="translate(914.6 347.6) rotate(-36.3)" font-size="9.5">AS</text>
</svg>
</body></html>
